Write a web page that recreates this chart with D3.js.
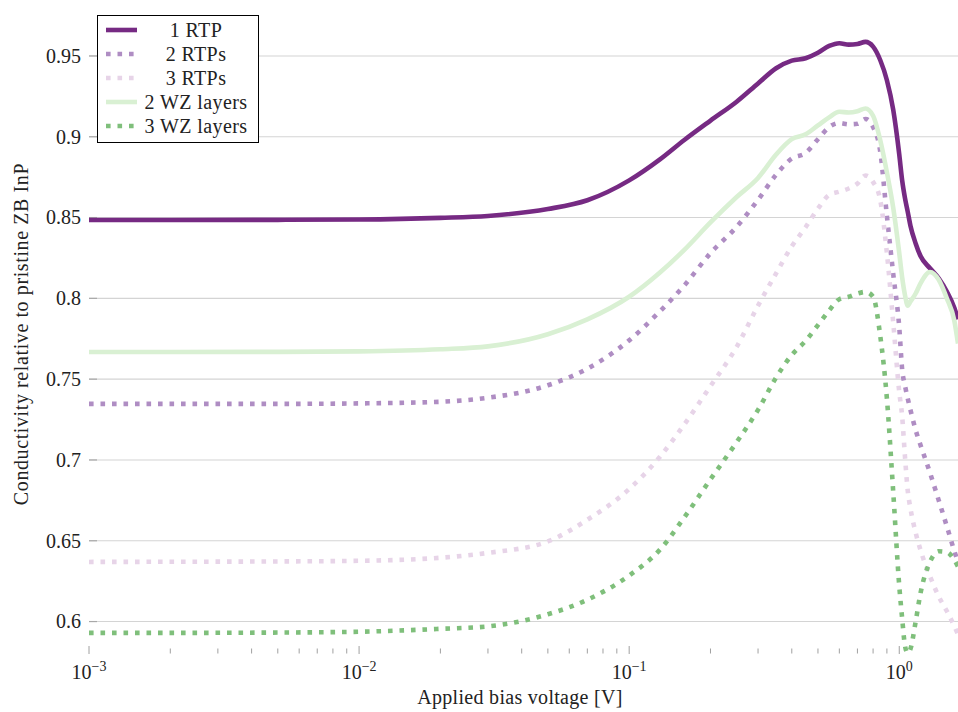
<!DOCTYPE html>
<html>
<head>
<meta charset="utf-8">
<script src="https://cdn.jsdelivr.net/npm/d3@7"></script>
<style>
  html, body { margin: 0; padding: 0; background: #fff; }
  text { font-family: 'Liberation Serif', 'DejaVu Serif', serif; }
</style>
</head>
<body>
<svg id="chart" width="958" height="712"></svg>
<script>
// Applied bias voltage samples [V]
const voltages = [0.001, 0.002, 0.005, 0.01, 0.02, 0.03, 0.05, 0.07, 0.1, 0.13, 0.16, 0.2,
  0.25, 0.3, 0.35, 0.4, 0.45, 0.5, 0.55, 0.6, 0.65, 0.7, 0.75, 0.8, 0.85, 0.9, 0.95, 1.0,
  1.025, 1.05, 1.075, 1.1, 1.15, 1.2, 1.3, 1.4, 1.5, 1.6, 1.65];

// Conductivity relative to pristine ZB InP
const oneRTP = [0.8485, 0.8485, 0.8486, 0.8488, 0.8498, 0.8510, 0.8553, 0.8607, 0.8730, 0.8860, 0.8980, 0.9100,
  0.9217, 0.9330, 0.9424, 0.9471, 0.9486, 0.9520, 0.9562, 0.9579, 0.9570, 0.9574, 0.9587, 0.9558, 0.9475, 0.9350, 0.9166, 0.8890,
  0.8730, 0.8620, 0.8535, 0.8450, 0.8340, 0.8260, 0.8186, 0.8124, 0.8042, 0.7940, 0.7870];
const twoRTPs = [0.7347, 0.7347, 0.7347, 0.7350, 0.7360, 0.7385, 0.7462, 0.7565, 0.7740, 0.7920, 0.8080, 0.8280,
  0.8443, 0.8610, 0.8765, 0.8865, 0.8900, 0.8985, 0.9060, 0.9085, 0.9077, 0.9080, 0.9110, 0.9060, 0.8910, 0.8510, 0.8150, 0.7820,
  0.7560, 0.7460, 0.7380, 0.7310, 0.7185, 0.7090, 0.6920, 0.6750, 0.6590, 0.6435, 0.6370];
const threeRTPs = [0.6369, 0.6370, 0.6372, 0.6376, 0.6395, 0.6425, 0.6496, 0.6630, 0.6820, 0.7020, 0.7220, 0.7457,
  0.7700, 0.7955, 0.8155, 0.8322, 0.8440, 0.8555, 0.8640, 0.8660, 0.8680, 0.8710, 0.8760, 0.8720, 0.8610, 0.8280, 0.7850, 0.7420,
  0.7270, 0.7020, 0.6810, 0.6700, 0.6550, 0.6440, 0.6280, 0.6155, 0.6065, 0.5970, 0.5920];
const twoWZ = [0.7668, 0.7668, 0.7669, 0.7672, 0.7685, 0.7703, 0.7778, 0.7870, 0.8010, 0.8160, 0.8300, 0.8470,
  0.8627, 0.8745, 0.8890, 0.8985, 0.9015, 0.9070, 0.9120, 0.9155, 0.9150, 0.9158, 0.9175, 0.9130, 0.8980, 0.8780, 0.8560, 0.8280,
  0.8130, 0.8020, 0.7955, 0.7980, 0.8030, 0.8094, 0.8163, 0.8115, 0.8000, 0.7860, 0.7720];
const threeWZ = [0.5930, 0.5930, 0.5932, 0.5937, 0.5955, 0.5970, 0.6045, 0.6135, 0.6285, 0.6445, 0.6645, 0.6880,
  0.7110, 0.7310, 0.7510, 0.7650, 0.7737, 0.7835, 0.7925, 0.7995, 0.8010, 0.8030, 0.8040, 0.8010, 0.7770, 0.7380, 0.6800, 0.6220,
  0.6020, 0.5850, 0.5805, 0.5830, 0.6000, 0.6180, 0.6370, 0.6435, 0.6430, 0.6380, 0.6340];

const seriesNames = ["1 RTP", "2 RTPs", "3 RTPs", "2 WZ layers", "3 WZ layers"];
const seriesValues = [oneRTP, twoRTPs, threeRTPs, twoWZ, threeWZ];
const seriesColors = ["#762a83", "#af8dc3", "#e7d4e8", "#d9f0d3", "#7fbf7b"];
const seriesDotted = [false, true, true, false, true];

const yTicks = [0.6, 0.65, 0.7, 0.75, 0.8, 0.85, 0.9, 0.95];
const yTickLabels = ["0.6", "0.65", "0.7", "0.75", "0.8", "0.85", "0.9", "0.95"];
const xDecadeExponents = [-3, -2, -1, 0];

const FONT = "'Liberation Serif', 'DejaVu Serif', serif";
const svg = d3.select("#chart");
const plot = { left: 89, right: 958, top: 7, bottom: 650 };

const x = d3.scaleLog().domain([0.001, 1.65]).range([plot.left, plot.right]);
const y = d3.scaleLinear().domain([0.5824, 0.9803]).range([plot.bottom, plot.top]);

const LW = 4.6;
const DOT = `${LW},${(LW * 1.5).toFixed(2)}`;

// horizontal grid lines
svg.append("g").selectAll("line").data(yTicks).join("line")
  .attr("x1", plot.left).attr("x2", plot.right)
  .attr("y1", d => y(d)).attr("y2", d => y(d))
  .attr("stroke", "#d4d4d4").attr("stroke-width", 1.1);

// y ticks and labels
const yAxis = svg.append("g");
yAxis.selectAll("line").data(yTicks).join("line")
  .attr("x1", plot.left).attr("x2", plot.left + 8)
  .attr("y1", d => y(d)).attr("y2", d => y(d))
  .attr("stroke", "#a8a8a8").attr("stroke-width", 1.2);
yAxis.selectAll("text").data(yTicks).join("text")
  .attr("x", plot.left - 8).attr("y", d => y(d)).attr("dy", "0.34em")
  .attr("text-anchor", "end").attr("font-family", FONT).attr("font-size", 20).attr("fill", "#222")
  .text((d, i) => yTickLabels[i]);

// x ticks: decades and minor ticks
const minorTicks = [];
xDecadeExponents.forEach(e => {
  for (let k = 2; k <= 9; k++) {
    const v = k * Math.pow(10, e);
    if (v <= x.domain()[1]) minorTicks.push(v);
  }
});
const xAxis = svg.append("g");
xAxis.selectAll("line.minor").data(minorTicks).join("line").attr("class", "minor")
  .attr("x1", d => x(d)).attr("x2", d => x(d))
  .attr("y1", plot.bottom - 1.5).attr("y2", plot.bottom + 3.5)
  .attr("stroke", "#a0a0a0").attr("stroke-width", 1);
xAxis.selectAll("line.major").data(xDecadeExponents).join("line").attr("class", "major")
  .attr("x1", e => x(Math.pow(10, e))).attr("x2", e => x(Math.pow(10, e)))
  .attr("y1", plot.bottom - 4).attr("y2", plot.bottom + 4)
  .attr("stroke", "#a0a0a0").attr("stroke-width", 1);
const xLabels = xAxis.selectAll("text").data(xDecadeExponents).join("text")
  .attr("x", e => x(Math.pow(10, e))).attr("y", 679)
  .attr("text-anchor", "middle").attr("font-family", FONT).attr("font-size", 20).attr("fill", "#222");
xLabels.append("tspan").text("10");
xLabels.append("tspan").attr("dy", -8).attr("font-size", 14)
  .text(e => (e < 0 ? "\u2212" + Math.abs(e) : String(e)));

// axis titles
svg.append("text")
  .attr("x", 520).attr("y", 704).attr("text-anchor", "middle")
  .attr("font-family", FONT).attr("font-size", 20).attr("letter-spacing", 0.3).attr("fill", "#222")
  .text("Applied bias voltage [V]");
svg.append("text")
  .attr("transform", "translate(28,334) rotate(-90)")
  .attr("text-anchor", "middle").attr("font-family", FONT).attr("font-size", 20)
  .attr("letter-spacing", 0.6).attr("fill", "#222")
  .text("Conductivity relative to pristine ZB InP");

// series lines
const line = d3.line()
  .x(d => x(d[0])).y(d => y(d[1]))
  .curve(d3.curveMonotoneX);

seriesValues.forEach((vals, i) => {
  svg.append("path")
    .datum(voltages.map((v, j) => [v, vals[j]]))
    .attr("d", line)
    .attr("fill", "none")
    .attr("stroke", seriesColors[i])
    .attr("stroke-width", LW)
    .attr("stroke-dasharray", seriesDotted[i] ? DOT : null)
    .attr("stroke-linejoin", "round");
});

// legend
const legend = svg.append("g");
legend.append("rect")
  .attr("x", 97.5).attr("y", 15.5).attr("width", 161).attr("height", 127)
  .attr("fill", "#fff").attr("stroke", "#000").attr("stroke-width", 1);
seriesNames.forEach((name, i) => {
  const cy = 30 + i * 24;
  legend.append("line")
    .attr("x1", 106).attr("x2", 137).attr("y1", cy).attr("y2", cy)
    .attr("stroke", seriesColors[i]).attr("stroke-width", LW)
    .attr("stroke-dasharray", seriesDotted[i] ? DOT : null);
  legend.append("text")
    .attr("x", 196).attr("y", cy + 6.5).attr("text-anchor", "middle")
    .attr("font-family", FONT).attr("font-size", 20).attr("letter-spacing", 0.4).attr("fill", "#222")
    .text(name);
});
</script>
</body>
</html>
